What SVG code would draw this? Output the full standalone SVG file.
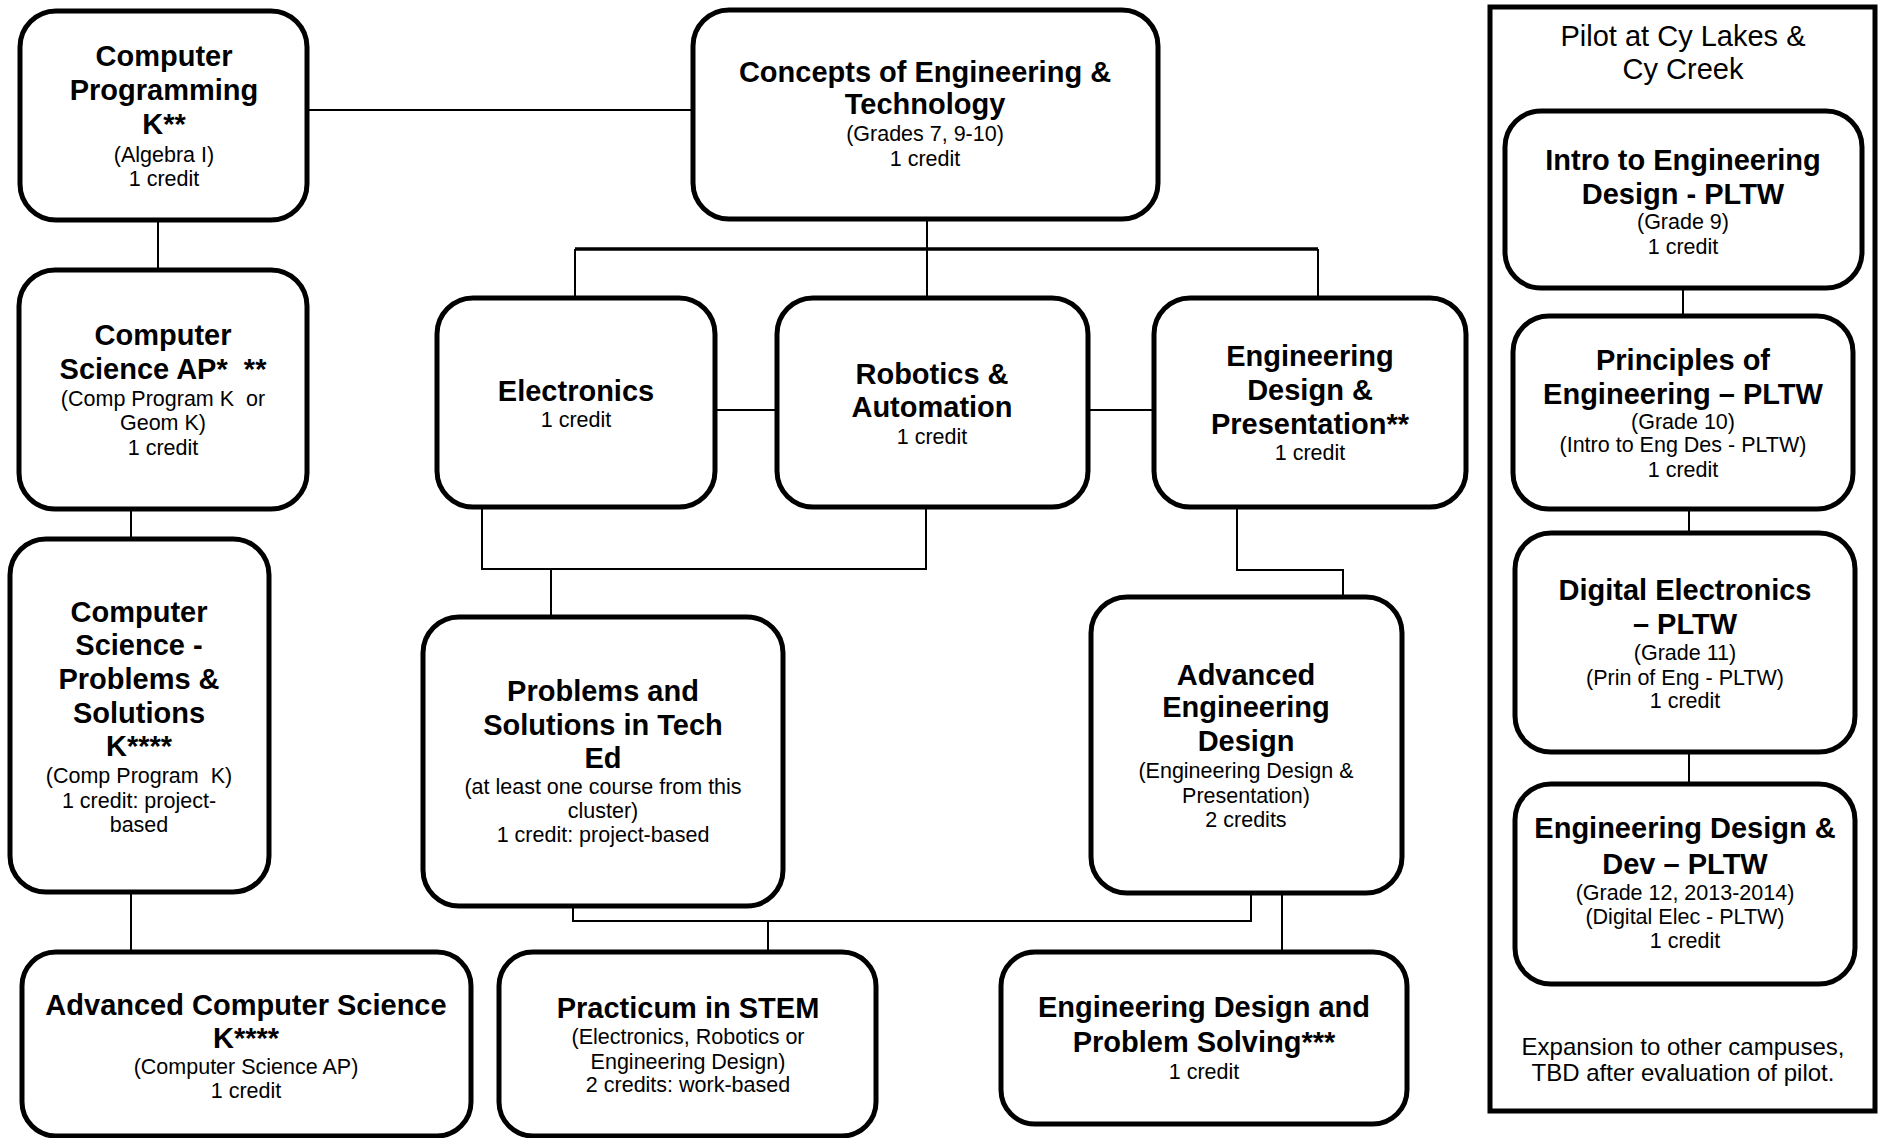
<svg xmlns="http://www.w3.org/2000/svg" width="1879" height="1138" viewBox="0 0 1879 1138">
<style>
.bg{fill:#ffffff}
.node{fill:#ffffff;stroke:#000;stroke-width:5}
.panel{fill:none;stroke:#000;stroke-width:5}
.conn line,.conn polyline{stroke:#000;stroke-width:2;fill:none}
.conn .thick{stroke-width:3.5}
text{font-family:"Liberation Sans",Arial,sans-serif;fill:#000;text-anchor:middle}
.b{font-size:29px;font-weight:bold}
.r{font-size:21.5px}
.t{font-size:29px}
.e{font-size:24px}
.pre{white-space:pre}
</style>
<rect class="bg" x="0" y="0" width="1879" height="1138"/>

<g id="connectors" class="conn">
  <line x1="307" y1="110" x2="693" y2="110"/>
  <line x1="158" y1="220" x2="158" y2="270"/>
  <line x1="131" y1="509" x2="131" y2="539"/>
  <line x1="131" y1="892" x2="131" y2="952"/>
  <line x1="927" y1="219" x2="927" y2="298"/>
  <line class="thick" x1="575" y1="249" x2="1318" y2="249"/>
  <line x1="575" y1="249" x2="575" y2="298"/>
  <line x1="1318" y1="249" x2="1318" y2="298"/>
  <line x1="715" y1="410" x2="777" y2="410"/>
  <line x1="1088" y1="410" x2="1154" y2="410"/>
  <polyline points="482,507 482,569 926,569 926,507"/>
  <line x1="551" y1="569" x2="551" y2="617"/>
  <polyline points="1237,507 1237,570 1343,570 1343,597"/>
  <polyline points="573,906 573,921 1251,921 1251,893"/>
  <line x1="768" y1="921" x2="768" y2="952"/>
  <line x1="1282" y1="893" x2="1282" y2="952"/>
  <line x1="1683" y1="288" x2="1683" y2="316"/>
  <line x1="1689" y1="509" x2="1689" y2="533"/>
  <line x1="1689" y1="752" x2="1689" y2="784"/>
</g>

<g id="pilot-panel">
  <rect class="panel" x="1490" y="7" width="385" height="1104"/>
  <text class="t" x="1683" y="46">Pilot at Cy Lakes &amp;</text>
  <text class="t" x="1683" y="79">Cy Creek</text>
  <text class="e" x="1683" y="1055">Expansion to other campuses,</text>
  <text class="e" x="1683" y="1081">TBD after evaluation of pilot.</text>
</g>

<g id="computer-programming">
  <rect class="node" x="20" y="11" width="287" height="209" rx="36"/>
  <text class="b" x="164" y="66">Computer</text>
  <text class="b" x="164" y="100">Programming</text>
  <text class="b" x="164" y="134">K**</text>
  <text class="r" x="164" y="162">(Algebra I)</text>
  <text class="r" x="164" y="186">1 credit</text>
</g>

<g id="concepts-engineering">
  <rect class="node" x="693" y="10" width="465" height="209" rx="36"/>
  <text class="b" x="925" y="82">Concepts of Engineering &amp;</text>
  <text class="b" x="925" y="114">Technology</text>
  <text class="r" x="925" y="141">(Grades 7, 9-10)</text>
  <text class="r" x="925" y="166">1 credit</text>
</g>

<g id="computer-science-ap">
  <rect class="node" x="19" y="270" width="288" height="239" rx="36"/>
  <text class="b" x="163" y="345">Computer</text>
  <text class="b pre" x="163" y="379">Science AP*  **</text>
  <text class="r pre" x="163" y="406">(Comp Program K  or</text>
  <text class="r" x="163" y="430">Geom K)</text>
  <text class="r" x="163" y="455">1 credit</text>
</g>

<g id="electronics">
  <rect class="node" x="437" y="298" width="278" height="209" rx="36"/>
  <text class="b" x="576" y="401">Electronics</text>
  <text class="r" x="576" y="427">1 credit</text>
</g>

<g id="robotics">
  <rect class="node" x="777" y="298" width="311" height="209" rx="36"/>
  <text class="b" x="932" y="384">Robotics &amp;</text>
  <text class="b" x="932" y="417">Automation</text>
  <text class="r" x="932" y="444">1 credit</text>
</g>

<g id="eng-design-presentation">
  <rect class="node" x="1154" y="298" width="312" height="209" rx="36"/>
  <text class="b" x="1310" y="366">Engineering</text>
  <text class="b" x="1310" y="400">Design &amp;</text>
  <text class="b" x="1310" y="434">Presentation**</text>
  <text class="r" x="1310" y="460">1 credit</text>
</g>

<g id="cs-problems-solutions">
  <rect class="node" x="10" y="539" width="259" height="353" rx="36"/>
  <text class="b" x="139" y="622">Computer</text>
  <text class="b" x="139" y="655">Science -</text>
  <text class="b" x="139" y="689">Problems &amp;</text>
  <text class="b" x="139" y="723">Solutions</text>
  <text class="b" x="139" y="756">K****</text>
  <text class="r pre" x="139" y="783">(Comp Program  K)</text>
  <text class="r" x="139" y="808">1 credit: project-</text>
  <text class="r" x="139" y="832">based</text>
</g>

<g id="problems-solutions-tech-ed">
  <rect class="node" x="423" y="617" width="360" height="289" rx="36"/>
  <text class="b" x="603" y="701">Problems and</text>
  <text class="b" x="603" y="735">Solutions in Tech</text>
  <text class="b" x="603" y="768">Ed</text>
  <text class="r" x="603" y="794">(at least one course from this</text>
  <text class="r" x="603" y="818">cluster)</text>
  <text class="r" x="603" y="842">1 credit: project-based</text>
</g>

<g id="advanced-engineering-design">
  <rect class="node" x="1091" y="597" width="311" height="296" rx="36"/>
  <text class="b" x="1246" y="685">Advanced</text>
  <text class="b" x="1246" y="717">Engineering</text>
  <text class="b" x="1246" y="751">Design</text>
  <text class="r" x="1246" y="778">(Engineering Design &amp;</text>
  <text class="r" x="1246" y="803">Presentation)</text>
  <text class="r" x="1246" y="827">2 credits</text>
</g>

<g id="advanced-computer-science">
  <rect class="node" x="22" y="952" width="449" height="184" rx="34"/>
  <text class="b" x="246" y="1015">Advanced Computer Science</text>
  <text class="b" x="246" y="1048">K****</text>
  <text class="r" x="246" y="1074">(Computer Science AP)</text>
  <text class="r" x="246" y="1098">1 credit</text>
</g>

<g id="practicum-stem">
  <rect class="node" x="499" y="952" width="377" height="184" rx="34"/>
  <text class="b" x="688" y="1018">Practicum in STEM</text>
  <text class="r" x="688" y="1044">(Electronics, Robotics or</text>
  <text class="r" x="688" y="1069">Engineering Design)</text>
  <text class="r" x="688" y="1092">2 credits: work-based</text>
</g>

<g id="eng-design-problem-solving">
  <rect class="node" x="1001" y="952" width="406" height="172" rx="34"/>
  <text class="b" x="1204" y="1017">Engineering Design and</text>
  <text class="b" x="1204" y="1052">Problem Solving***</text>
  <text class="r" x="1204" y="1079">1 credit</text>
</g>

<g id="intro-eng-design-pltw">
  <rect class="node" x="1505" y="111" width="357" height="177" rx="36"/>
  <text class="b" x="1683" y="170">Intro to Engineering</text>
  <text class="b" x="1683" y="204">Design - PLTW</text>
  <text class="r" x="1683" y="229">(Grade 9)</text>
  <text class="r" x="1683" y="254">1 credit</text>
</g>

<g id="principles-eng-pltw">
  <rect class="node" x="1513" y="316" width="340" height="193" rx="36"/>
  <text class="b" x="1683" y="370">Principles of</text>
  <text class="b" x="1683" y="404">Engineering – PLTW</text>
  <text class="r" x="1683" y="429">(Grade 10)</text>
  <text class="r" x="1683" y="452">(Intro to Eng Des - PLTW)</text>
  <text class="r" x="1683" y="477">1 credit</text>
</g>

<g id="digital-electronics-pltw">
  <rect class="node" x="1515" y="533" width="340" height="219" rx="36"/>
  <text class="b" x="1685" y="600">Digital Electronics</text>
  <text class="b" x="1685" y="634">– PLTW</text>
  <text class="r" x="1685" y="660">(Grade 11)</text>
  <text class="r" x="1685" y="685">(Prin of Eng - PLTW)</text>
  <text class="r" x="1685" y="708">1 credit</text>
</g>

<g id="eng-design-dev-pltw">
  <rect class="node" x="1515" y="784" width="340" height="200" rx="36"/>
  <text class="b" x="1685" y="838">Engineering Design &amp;</text>
  <text class="b" x="1685" y="874">Dev – PLTW</text>
  <text class="r" x="1685" y="900">(Grade 12, 2013-2014)</text>
  <text class="r" x="1685" y="924">(Digital Elec - PLTW)</text>
  <text class="r" x="1685" y="948">1 credit</text>
</g>
</svg>
